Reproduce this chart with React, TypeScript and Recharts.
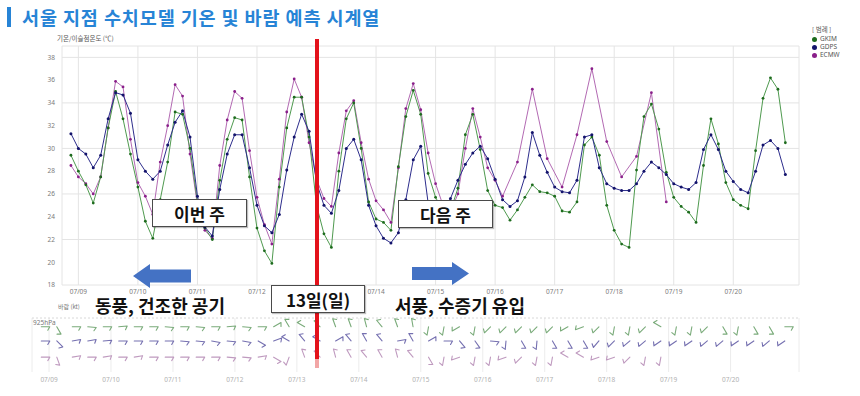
import React from 'react';
import {
  LineChart,
  Line,
  XAxis,
  YAxis,
  CartesianGrid,
  ScatterChart,
  Scatter,
  ReferenceLine,
} from 'recharts';

// Day labels (ticks every 24h from 07/09 00 KST)
const DATES = ['07/09', '07/10', '07/11', '07/12', '07/13', '07/14', '07/15', '07/16', '07/17', '07/18', '07/19', '07/20'];
const Y_TICKS = [18, 20, 22, 24, 26, 28, 30, 32, 34, 36, 38];

// 3-hourly temperature (°C), first value at 07/08 21h
const GKIM = [
  29.4, 28.0, 26.8, 25.2, 27.5, 31.8, 35.0, 32.6, 29.5, 26.6, 23.6, 22.1,
  25.5, 28.8, 33.2, 33.0, 30.0, 25.3, 23.0, 22.0, 27.2, 30.8, 32.7, 32.5,
  27.5, 23.0, 21.0, 19.9, 26.6, 31.8, 34.5, 34.5, 31.0, 25.0, 22.5, 21.3,
  28.0, 32.6, 34.0, 30.0, 25.3, 23.8, 23.5, 22.8, 28.4, 32.8, 35.1, 33.0,
  27.8, 25.7, 24.5, 24.5, 26.5, 31.2, 33.0, 29.9, 26.3, 25.0, 24.8, 23.7,
  24.6, 25.7, 26.8, 26.2, 26.1, 25.8, 24.5, 24.4, 25.3, 30.3, 31.0, 29.4,
  25.0, 22.8, 21.6, 21.3, 28.1, 32.8, 33.9, 31.7, 27.9, 25.7, 24.9, 24.4,
  23.5, 28.5, 32.6, 30.4, 27.0, 25.5, 25.0, 24.7, 29.8, 34.4, 36.2, 35.2,
  30.5,
];
const GDPS = [
  31.3, 30.0, 29.5, 28.3, 29.4, 32.6, 34.9, 34.7, 33.1, 29.0, 28.0, 27.3,
  28.0, 30.3, 32.3, 33.3, 31.0, 25.8, 23.1, 22.3, 26.4, 29.5, 31.2, 31.2,
  28.3, 25.0, 23.2, 22.6, 24.2, 28.1, 31.0, 33.0, 31.5, 27.0, 25.0, 24.3,
  26.3, 30.0, 30.8, 29.0, 25.0, 23.2, 22.1, 21.7, 22.6, 25.5, 29.0, 30.2,
  25.2, 24.6, 24.5, 25.6, 27.2, 28.6, 29.6, 30.2, 29.1, 27.3, 25.5, 24.9,
  25.4, 27.5, 31.4, 29.4, 27.9, 26.6, 26.2, 26.1, 27.2, 31.0, 31.2, 28.3,
  26.9, 26.5, 26.3, 26.3, 26.9, 28.0, 28.8, 28.3, 27.7, 26.9, 26.6, 26.4,
  27.0, 29.9, 31.2, 29.9, 28.0, 27.1, 26.4, 26.1, 28.0, 30.3, 30.7, 30.0,
  27.7,
];
const ECMWF = [
  28.5, 27.5, 26.9, 26.0, 27.5, 31.8, 35.9, 35.4, 30.8, 27.0, 25.8, 24.2,
  28.8, 32.0, 35.6, 34.6, 29.5, 25.0, 22.8, 22.1, 28.5, 32.5, 35.0, 34.4,
  29.8, 25.7, 23.3, 21.6, 27.3, 33.2, 36.1, 34.5, 30.5, 27.3, 25.6, 24.9,
  29.6, 33.3, 34.2, 30.5, 27.3, 25.4, 24.6, 23.5, 28.3, 33.5, 35.7, 33.4,
  29.6, 26.9, 25.0, 24.4, 26.0, 30.0, 33.5, 31.0, 28.3, 27.2, 25.8, null,
  28.8, null, 35.2, null, 29.1, null, 26.6, null, 31.2, null, 37.0, null,
  30.6, null, 27.5, null, 29.3, null, 34.9, null, 25.3, null, null, null,
  null, null, null, null, null, null, null, null, null, null, null, null,
  null,
];

// 925hPa wind direction (deg, from), 6-hourly from 07/08 21h
const WIND_GKIM = [
  90, 150, 90, 95, 90, 85, 90, 90, 95, 90, 95, 90, 85, 95, 90, 60,
  330, 300, 315, 340, 340, 345, 320, 340, 350, 190, 190, 240, 190, 225, 225, 225,
  225, 225, 240, 250, 225, 190, 190, 225, 300, 190, 190, 225, 150, 190, 150, 150, 90,
];
const WIND_GDPS = [
  90, 135, 80, 80, 85, 90, 90, 90, 90, 95, 95, 100, 95, 100, 120, 70,
  300, 320, 300, 60, 320, 330, 320, 80, 330, 60, 90, 140, 145, 95, 185, 150,
  185, 150, 150, 150, 220, 225, 230, 230, 235, 235, 235, 230, 230, 235, 235, 230, 235,
];
const WIND_ECMWF = [
  90, 160, 80, 90, 80, 90, 80, 90, 90, 90, 90, 90, 95, 95, 80, 120,
  200, 340, 315, 345, 330, 320, 330, 345, 320, 150, 190, 250, 190, 190, 250, 225,
  190, 190, 300, 300, 250, 250, 225, 190, 190,
];

const X_MIN = -6.6;
const X_MAX = 290.5;
const PLOT_LEFT = 62;
const PLOT_WIDTH = 737;
const xPix = (h: number) => PLOT_LEFT + ((h - X_MIN) / (X_MAX - X_MIN)) * PLOT_WIDTH;

const DAY_TICKS = DATES.map((_, i) => i * 24);
const dayLabel = (h: number) => DATES[Math.round(h / 24)] ?? '';

const tempRows = GDPS.map((_, i) => ({
  h: -3 + i * 3,
  gkim: GKIM[i],
  gdps: GDPS[i],
  ecmwf: ECMWF[i],
}));

const windRows = (dirs: number[], row: number) =>
  dirs.map((dir, i) => ({ h: -3 + i * 6, y: row, dir }));

const COLORS = {
  gkim: { line: '#4f9a4f', dot: '#1d6b1d', barb: '#7aab7a' },
  gdps: { line: '#2d2d8c', dot: '#13136b', barb: '#7570b0' },
  ecmwf: { line: '#b36ab3', dot: '#8a1f8a', barb: '#bf9abf' },
};

const KR = '"Noto Sans CJK KR", "Noto Sans", sans-serif';
const SMALL = '"Noto Sans", "Noto Sans CJK KR", sans-serif';

function makeBarb(color: string) {
  return (props: any) => {
    const { cx, cy, payload } = props;
    if (typeof cx !== 'number' || typeof cy !== 'number') return <g />;
    const rad = (payload.dir * Math.PI) / 180;
    const ux = Math.sin(rad);
    const uy = -Math.cos(rad);
    const ex = cx + ux * 8.5;
    const ey = cy + uy * 8.5;
    const a = Math.atan2(uy, ux) + (120 * Math.PI) / 180;
    const fx = ex + Math.cos(a) * 4;
    const fy = ey + Math.sin(a) * 4;
    return (
      <path
        d={`M${cx},${cy}L${ex},${ey}L${fx},${fy}`}
        fill="none"
        stroke={color}
        strokeWidth={1.1}
        strokeLinejoin="round"
        strokeLinecap="round"
      />
    );
  };
}

const tickStyle = { fill: '#7a7a7a', fontSize: 6.5, fontFamily: SMALL };

function TextBox({ left, top, width, height, text }: any) {
  return (
    <div
      style={{
        position: 'absolute',
        left,
        top,
        width,
        height,
        boxSizing: 'border-box',
        border: '1px solid #4a4a4a',
        background: '#fff',
        boxShadow: '1px 1px 1px rgba(0,0,0,0.25)',
        display: 'flex',
        alignItems: 'center',
        justifyContent: 'center',
        fontFamily: KR,
        fontWeight: 700,
        fontSize: 17,
        color: '#111',
      }}
    >
      {text}
    </div>
  );
}

export default function App() {
  return (
    <div style={{ position: 'absolute', left: 0, top: 0, width: 860, height: 396, background: '#fff', overflow: 'hidden' }}>
      {/* title */}
      <div style={{ position: 'absolute', left: 7, top: 7, width: 4, height: 20, background: '#2784d6' }} />
      <div
        style={{
          position: 'absolute',
          left: 22,
          top: 5,
          fontFamily: KR,
          fontWeight: 700,
          fontSize: 18.5,
          letterSpacing: 0.9,
          lineHeight: '24px',
          color: '#2784d6',
          whiteSpace: 'nowrap',
        }}
      >
        서울 지점 수치모델 기온 및 바람 예측 시계열
      </div>
      <div style={{ position: 'absolute', left: 57, top: 33, fontFamily: KR, fontSize: 6.5, color: '#555', whiteSpace: 'nowrap' }}>
        기온/이슬점온도 (℃)
      </div>

      {/* temperature chart */}
      <div style={{ position: 'absolute', left: 0, top: 0 }}>
        <LineChart width={860} height={300} data={tempRows} margin={{ top: 46, right: 61, bottom: 3, left: 32 }}>
          <CartesianGrid stroke="#e4e4e4" strokeWidth={1} />
          <XAxis
            dataKey="h"
            type="number"
            domain={[X_MIN, X_MAX]}
            ticks={DAY_TICKS}
            tickFormatter={dayLabel}
            axisLine={false}
            tickLine={false}
            tickSize={0}
            tickMargin={4}
            height={12}
            tick={tickStyle}
            allowDataOverflow
          />
          <YAxis
            type="number"
            domain={[18, 39]}
            ticks={Y_TICKS}
            axisLine={false}
            tickLine={false}
            tickSize={0}
            tickMargin={7}
            width={30}
            tick={tickStyle}
            allowDataOverflow
          />
          <Line
            dataKey="ecmwf"
            stroke={COLORS.ecmwf.line}
            strokeWidth={1}
            connectNulls
            dot={{ r: 1.4, fill: COLORS.ecmwf.dot, stroke: 'none' }}
            isAnimationActive={false}
          />
          <Line
            dataKey="gkim"
            stroke={COLORS.gkim.line}
            strokeWidth={1}
            dot={{ r: 1.4, fill: COLORS.gkim.dot, stroke: 'none' }}
            isAnimationActive={false}
          />
          <Line
            dataKey="gdps"
            stroke={COLORS.gdps.line}
            strokeWidth={1}
            dot={{ r: 1.5, fill: COLORS.gdps.dot, stroke: 'none' }}
            isAnimationActive={false}
          />
        </LineChart>
      </div>

      {/* wind chart */}
      <div style={{ position: 'absolute', left: 0, top: 300 }}>
        <ScatterChart width={860} height={90} margin={{ top: 18, right: 61, bottom: 6, left: 32 }}>
          <CartesianGrid horizontal={false} stroke="#ececec" />
          <XAxis
            dataKey="h"
            type="number"
            domain={[X_MIN, X_MAX]}
            ticks={DAY_TICKS}
            tickFormatter={dayLabel}
            axisLine={false}
            tickLine={false}
            tickSize={0}
            tickMargin={5}
            height={12}
            tick={{ ...tickStyle, fill: '#b0b0b0' }}
            allowDataOverflow
          />
          <YAxis dataKey="y" type="number" domain={[0, 4]} hide width={30} />
          <ReferenceLine y={4} stroke="#d8d8d8" strokeDasharray="2 2" />
          <Scatter data={windRows(WIND_GKIM, 3.35)} shape={makeBarb(COLORS.gkim.barb)} isAnimationActive={false} />
          <Scatter data={windRows(WIND_GDPS, 2.3)} shape={makeBarb(COLORS.gdps.barb)} isAnimationActive={false} />
          <Scatter data={windRows(WIND_ECMWF, 1.1)} shape={makeBarb(COLORS.ecmwf.barb)} isAnimationActive={false} />
        </ScatterChart>
      </div>
      <div style={{ position: 'absolute', left: 58, top: 302, fontFamily: KR, fontSize: 6, color: '#777', whiteSpace: 'nowrap' }}>바람 (kt)</div>
      <div style={{ position: 'absolute', left: 33, top: 318, fontFamily: SMALL, fontSize: 6.5, color: '#777' }}>925hPa</div>

      {/* legend */}
      <div style={{ position: 'absolute', left: 812, top: 25, fontFamily: KR, fontSize: 6.5, color: '#555', lineHeight: '8px' }}>
        <div style={{ marginBottom: 2 }}>[ 범례 ]</div>
        {[
          ['GKIM', COLORS.gkim.dot],
          ['GDPS', COLORS.gdps.dot],
          ['ECMW', COLORS.ecmwf.dot],
        ].map(([name, c]) => (
          <div key={name} style={{ display: 'flex', alignItems: 'center', gap: 3, fontFamily: SMALL }}>
            <span style={{ width: 5, height: 5, borderRadius: 3, background: c, display: 'inline-block' }} />
            {name}
          </div>
        ))}
      </div>

      {/* 13th marker */}
      <div style={{ position: 'absolute', left: xPix(96) - 2, top: 39, width: 4, height: 320, background: '#e3121b' }} />
      <div style={{ position: 'absolute', left: xPix(96) - 2, top: 359, width: 4, height: 9, background: '#f2a6a6' }} />

      {/* arrows */}
      <svg style={{ position: 'absolute', left: 0, top: 0 }} width={860} height={396}>
        <polygon points="133,276 150,264 150,269.5 191,269.5 191,282.5 150,282.5 150,288" fill="#4472c4" />
        <polygon points="469,273.5 452,262 452,267 412,267 412,280 452,280 452,285" fill="#4472c4" />
      </svg>

      <TextBox left={152} top={199} width={95} height={28} text="이번 주" />
      <TextBox left={398} top={200} width={95} height={28} text="다음 주" />
      <TextBox left={271} top={285} width={94} height={28} text="13일(일)" />

      <div style={{ position: 'absolute', left: 95, top: 293, fontFamily: KR, fontWeight: 700, fontSize: 18, lineHeight: '24px', color: '#111', whiteSpace: 'nowrap' }}>
        동풍, 건조한 공기
      </div>
      <div style={{ position: 'absolute', left: 395, top: 293, fontFamily: KR, fontWeight: 700, fontSize: 18, lineHeight: '24px', color: '#111', whiteSpace: 'nowrap' }}>
        서풍, 수증기 유입
      </div>
    </div>
  );
}
